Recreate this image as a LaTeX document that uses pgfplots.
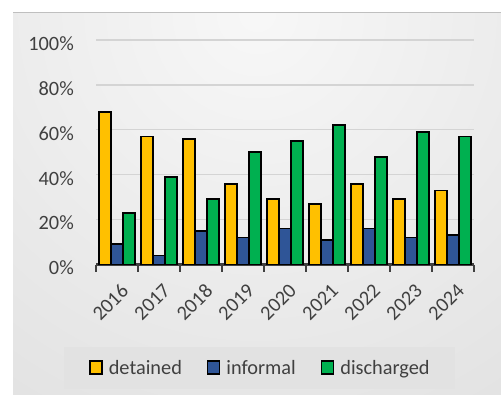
\documentclass[border=0pt]{standalone}
\usepackage{pgfplots}
\pgfplotsset{compat=1.18}
\usepackage{fontspec}
\setmainfont{Carlito}
\definecolor{cyel}{HTML}{FFC000}
\definecolor{cblue}{HTML}{2F5597}
\definecolor{cgreen}{HTML}{00B050}
\definecolor{txt}{HTML}{404040}
\definecolor{leggray}{HTML}{E2E2E2}
\definecolor{gridc}{HTML}{D4D4D4}
\begin{document}
\begin{tikzpicture}[x=1bp,y=1bp]
\path[use as bounding box] (0,0) rectangle (501,394);
\begin{scope}
\clip (13,0) rectangle (501,381);
\shade[inner color=black!3, outer color=black!19] (257,381) circle (900);
\end{scope}
\draw[black!25, line width=1bp] (13,381) -- (501,381);
\fill[leggray] (64,5) rectangle (455,47);
\begin{axis}[
  at={(96bp,129.5bp)}, anchor=south west,
  scale only axis, width=378bp, height=224.5bp,
  xmin=-0.5, xmax=8.5, ymin=0, ymax=100,
  ybar=0pt, bar width=12bp,
  axis lines*=left,
  y axis line style={draw=none},
  x axis line style={draw=txt, line width=3bp},
  /pgf/number format/assume math mode=true,
  ytick={0,20,...,100},
  yticklabel={\pgfmathprintnumber{\tick}\%},
  ymajorgrids, grid style={gridc, line width=1.3bp},
  xtick={0,...,8},
  xticklabels={2016,2017,2018,2019,2020,2021,2022,2023,2024},
  major tick length=0pt,
  extra x ticks={-0.5,0.5,...,8.5},
  extra x tick style={xticklabel={}, major tick length=7bp, tick align=outside, tick style={draw=txt, line width=2.5bp}},
  tick label style={font=\fontsize{20.4}{24}\selectfont, text=txt},
  y tick label style={anchor=east, inner sep=0pt, xshift=-22bp, yshift=-3.5bp},
  x tick label style={xshift=3bp, yshift=-18bp, rotate=45, anchor=north east, inner sep=0pt},
  legend style={at={(0.4325,-0.461)}, anchor=center, draw=none, fill=none,
    font=\fontsize{20.4}{24}\selectfont, text=txt, legend columns=3,
    nodes={inner sep=0pt},
    /tikz/every odd column/.append style={column sep=6bp},
    /tikz/every even column/.append style={column sep=25bp}},
  legend image code/.code={\draw[#1, line width=1.5bp] (0bp,-6bp) rectangle (12bp,7bp);},
  clip=false,
]
\addplot[fill=cyel, draw=black, line width=1.8bp] coordinates {(0,68) (1,57) (2,56) (3,36) (4,29) (5,27) (6,36) (7,29) (8,33)};
\addplot[fill=cblue, draw=black, line width=1.8bp] coordinates {(0,9) (1,4) (2,15) (3,12) (4,16) (5,11) (6,16) (7,12) (8,13)};
\addplot[fill=cgreen, draw=black, line width=1.8bp] coordinates {(0,23) (1,39) (2,29) (3,50) (4,55) (5,62) (6,48) (7,59) (8,57)};
\legend{detained,informal,discharged}
\end{axis}
\end{tikzpicture}
\end{document}
